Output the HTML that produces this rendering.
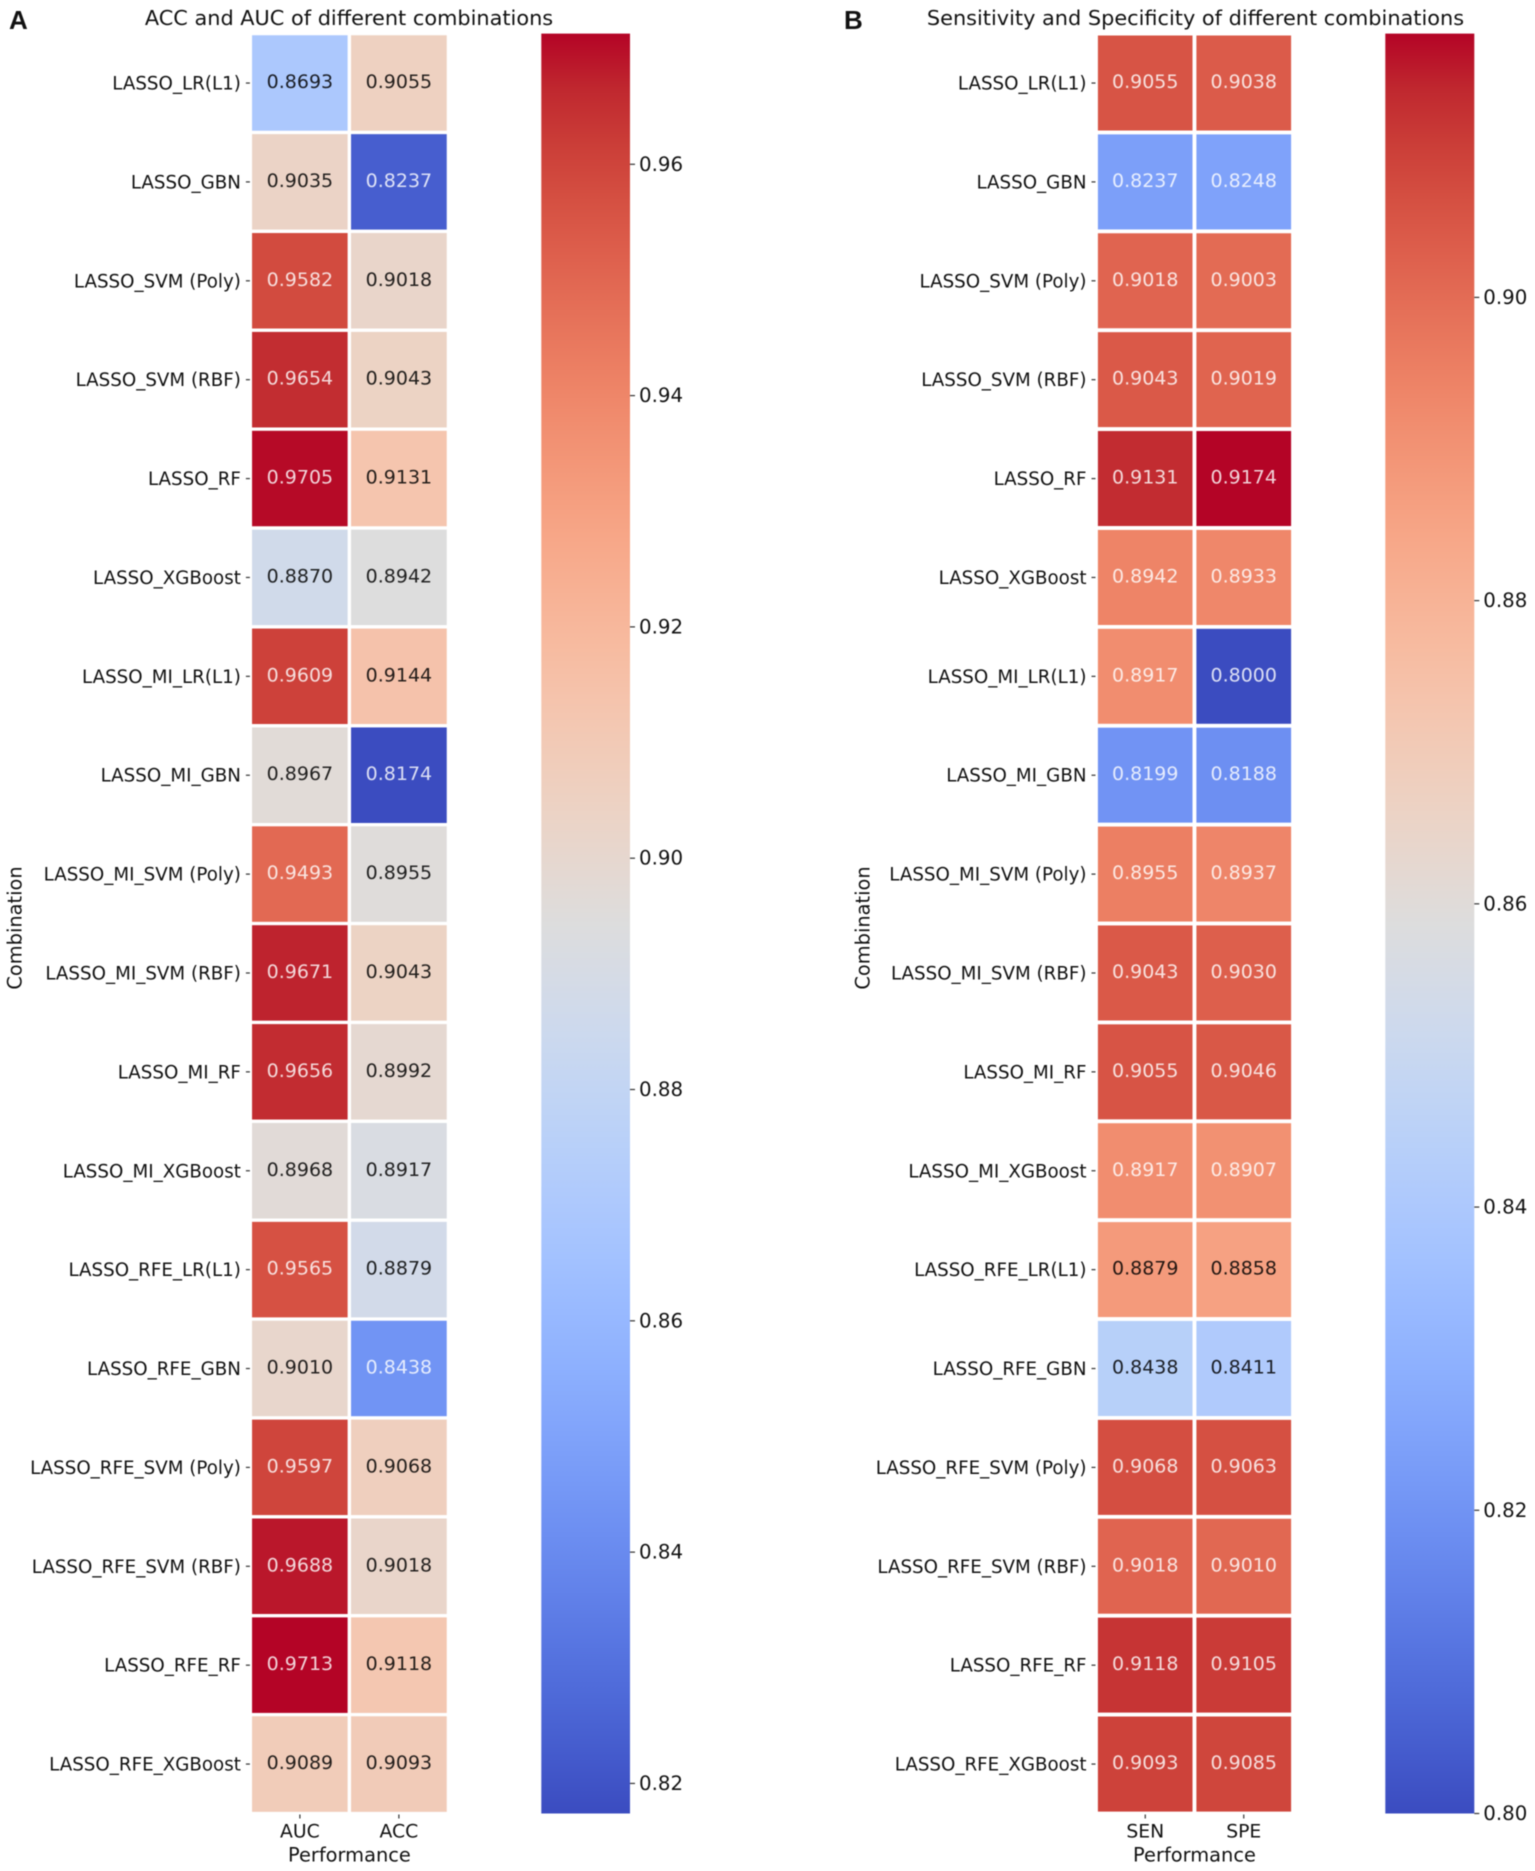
<!DOCTYPE html>
<html>
<head>
<meta charset="utf-8">
<title>Heatmaps of combinations</title>
<style>
html,body{margin:0;padding:0;background:#fff;}
#fig{display:block;width:1535px;height:1871px;filter:blur(0.6px);}
text{font-family:"DejaVu Sans","Liberation Sans",sans-serif;fill:#111;}
.panel-letter{font-family:"Liberation Sans",sans-serif;font-weight:bold;}
</style>
</head>
<body>
<svg id="fig" xmlns="http://www.w3.org/2000/svg" width="1535" height="1871" viewBox="0 0 1535 1871">
<defs id="defs"></defs>
</svg>
<script>
const combinations = ["LASSO_LR(L1)","LASSO_GBN","LASSO_SVM (Poly)","LASSO_SVM (RBF)","LASSO_RF","LASSO_XGBoost","LASSO_MI_LR(L1)","LASSO_MI_GBN","LASSO_MI_SVM (Poly)","LASSO_MI_SVM (RBF)","LASSO_MI_RF","LASSO_MI_XGBoost","LASSO_RFE_LR(L1)","LASSO_RFE_GBN","LASSO_RFE_SVM (Poly)","LASSO_RFE_SVM (RBF)","LASSO_RFE_RF","LASSO_RFE_XGBoost"];
const metricsA = ["AUC","ACC"];
const metricsB = ["SEN","SPE"];
const aucValues = [0.8693,0.9035,0.9582,0.9654,0.9705,0.8870,0.9609,0.8967,0.9493,0.9671,0.9656,0.8968,0.9565,0.9010,0.9597,0.9688,0.9713,0.9089];
const accValues = [0.9055,0.8237,0.9018,0.9043,0.9131,0.8942,0.9144,0.8174,0.8955,0.9043,0.8992,0.8917,0.8879,0.8438,0.9068,0.9018,0.9118,0.9093];
const senValues = [0.9055,0.8237,0.9018,0.9043,0.9131,0.8942,0.8917,0.8199,0.8955,0.9043,0.9055,0.8917,0.8879,0.8438,0.9068,0.9018,0.9118,0.9093];
const speValues = [0.9038,0.8248,0.9003,0.9019,0.9174,0.8933,0.8000,0.8188,0.8937,0.9030,0.9046,0.8907,0.8858,0.8411,0.9063,0.9010,0.9105,0.9085];
const colorbarTicksA = [0.82,0.84,0.86,0.88,0.90,0.92,0.94,0.96];
const colorbarTicksB = [0.80,0.82,0.84,0.86,0.88,0.90];

const COOLWARM = [[59,76,192],[68,90,204],[77,104,215],[87,117,225],[98,130,234],[108,142,241],[119,154,247],[130,165,251],[141,176,254],[152,185,255],[163,194,255],[174,201,253],[184,208,249],[194,213,244],[204,217,238],[213,219,230],[221,221,221],[229,216,209],[236,211,197],[241,204,185],[245,196,173],[247,187,160],[247,177,148],[247,166,135],[244,154,123],[241,141,111],[236,127,99],[229,112,88],[222,96,77],[213,80,66],[203,62,56],[192,40,47],[180,4,38]];

function cmap(t){
  t=Math.max(0,Math.min(1,t));
  const p=t*(COOLWARM.length-1), i=Math.min(Math.floor(p),COOLWARM.length-2), f=p-i;
  return COOLWARM[i].map((c,k)=>c+(COOLWARM[i+1][k]-c)*f);
}
function lum(rgb){
  const l=rgb.map(c=>{c/=255;return c<=0.03928?c/12.92:Math.pow((c+0.055)/1.055,2.4);});
  return 0.2126*l[0]+0.7152*l[1]+0.0722*l[2];
}
function css(rgb){return 'rgb('+rgb.map(c=>Math.round(c)).join(',')+')';}

const svg=document.getElementById('fig');
const defs=document.getElementById('defs');
const NS='http://www.w3.org/2000/svg';
function add(parent,tag,attrs,txt){
  const el=document.createElementNS(NS,tag);
  for(const k in attrs)el.setAttribute(k,attrs[k]);
  if(txt!==undefined)el.textContent=txt;
  parent.appendChild(el);
  return el;
}
function slug(s){return s.toLowerCase().replace(/[^a-z0-9]+/g,'-').replace(/^-|-$/g,'');}

function drawPanel(cfg){
  const g=add(svg,'g',{});
  
  
  const all=cfg.series.flat();
  const vmin=Math.min(...all), vmax=Math.max(...all);
  const top=cfg.top, bottom=cfg.bottom;
  const rowH=(bottom-top)/combinations.length;
  const colW=(cfg.right-cfg.left)/cfg.metrics.length;
  const xBand=i=>cfg.left+i*colW;
  const yBand=i=>top+i*rowH;
  const norm=v=>(v-vmin)/(vmax-vmin);
  const cbY=v=>bottom-norm(v)*(bottom-top);

  const letter=add(g,'text',{x:cfg.letterX,y:29,'font-size':26,'class':'panel-letter'},cfg.letter);
  
  

  const title=add(g,'text',{x:cfg.titleX,y:25,'font-size':cfg.titleSize,'text-anchor':'middle'},cfg.title);
  
  

  cfg.series.forEach((vals,c)=>{
    vals.forEach((v,r)=>{
      const col=cmap(norm(v));
      const cell=add(g,'rect',{x:xBand(c),y:yBand(r),width:colW,height:rowH,fill:css(col),stroke:'#fff','stroke-width':cfg.gap});
      
      
    });
  });
  cfg.series.forEach((vals,c)=>{
    vals.forEach((v,r)=>{
      const col=cmap(norm(v));
      const light=lum(col)<0.408;
      const label=add(g,'text',{x:xBand(c)+colW/2,y:yBand(r)+rowH/2-1,'font-size':cfg.valueSize,'text-anchor':'middle','dominant-baseline':'central',style:light?'fill:#fff;fill-opacity:0.82':'fill:#000;fill-opacity:0.85'},v.toFixed(4));
      
      
    });
  });

  combinations.forEach((name,r)=>{
    const cy=yBand(r)+rowH/2;
    const tick=add(g,'line',{x1:cfg.left-4.5,x2:cfg.left-0.5,y1:cy,y2:cy,stroke:'#333','stroke-width':1.2});
    
    
    const t=add(g,'text',{x:cfg.left-9.5,y:cy+1,'font-size':cfg.labelSize,'text-anchor':'end','dominant-baseline':'central'},name);
    
    
  });

  cfg.metrics.forEach((name,c)=>{
    const cx=xBand(c)+colW/2;
    const tick=add(g,'line',{x1:cx,x2:cx,y1:bottom+1,y2:bottom+5,stroke:'#333','stroke-width':1.2});
    
    
    const t=add(g,'text',{x:cx,y:1832,'font-size':cfg.tickSize,'text-anchor':'middle','dominant-baseline':'central'},name);
    
    
  });

  const xt=add(g,'text',{x:(cfg.left+cfg.right)/2,y:1855,'font-size':cfg.axisSize,'text-anchor':'middle','dominant-baseline':'central'},'Performance');
  
  

  const yt=add(g,'text',{x:0,y:0,'font-size':cfg.axisSize,'text-anchor':'middle','dominant-baseline':'central',transform:'translate('+cfg.yTitleX+',928) rotate(-90)'},'Combination');
  
  

  const gradId='grad-'+cfg.id;
  const grad=add(defs,'linearGradient',{id:gradId,x1:0,y1:1,x2:0,y2:0});
  COOLWARM.forEach((c,i)=>{add(grad,'stop',{offset:i/(COOLWARM.length-1),'stop-color':css(c)});});
  const bar=add(g,'rect',{x:cfg.cbLeft,y:top,width:cfg.cbRight-cfg.cbLeft,height:bottom-top,fill:'url(#'+gradId+')'});
  
  

  cfg.ticks.forEach(v=>{
    const y=cbY(v);
    const tick=add(g,'line',{x1:cfg.cbRight,x2:cfg.cbRight+5,y1:y,y2:y,stroke:'#333','stroke-width':1.2});
    
    
    const t=add(g,'text',{x:cfg.cbRight+9,y:y,'font-size':cfg.cbSize,'dominant-baseline':'central'},v.toFixed(2));
    
    
  });
}

drawPanel({id:'a',letter:'A',letterX:9,title:'ACC and AUC of different combinations',titleX:349,titleSize:20.85,
  metrics:metricsA,series:[aucValues,accValues],ticks:colorbarTicksA,gap:3.3,
  left:250.4,right:448.4,top:33.6,bottom:1813.5,cbLeft:541.3,cbRight:630,
  valueSize:19,labelSize:18.25,tickSize:18.8,axisSize:19.4,cbSize:19.8,yTitleX:15});
drawPanel({id:'b',letter:'B',letterX:844,title:'Sensitivity and Specificity of different combinations',titleX:1195.5,titleSize:20.85,
  metrics:metricsB,series:[senValues,speValues],ticks:colorbarTicksB,gap:3.8,
  left:1096,right:1293,top:33.6,bottom:1813.5,cbLeft:1385.3,cbRight:1474.3,
  valueSize:19,labelSize:18.25,tickSize:18.8,axisSize:19.4,cbSize:19.8,yTitleX:863});
</script>
</body>
</html>
